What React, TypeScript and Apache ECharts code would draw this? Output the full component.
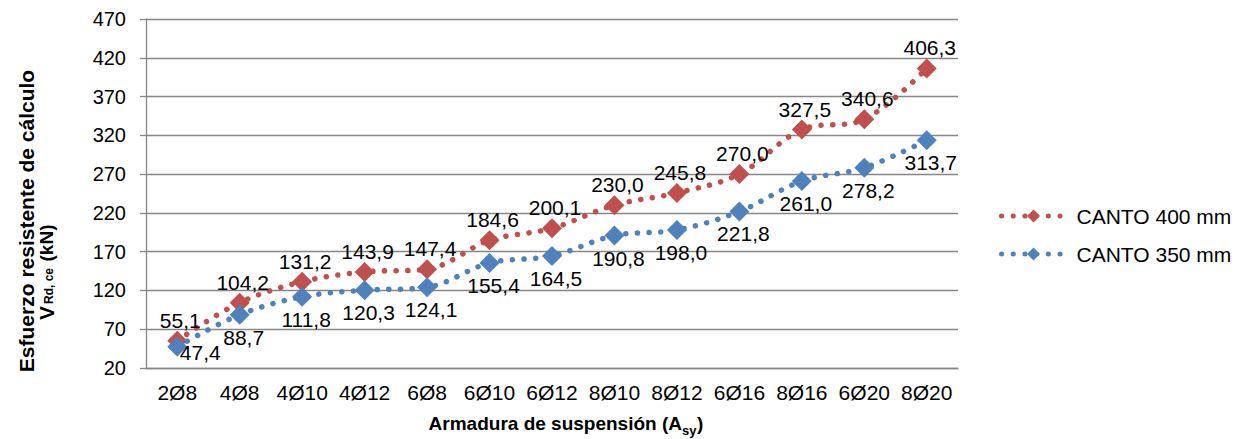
import React, { useEffect, useRef } from "react";
import * as echarts from "echarts";

const categories = ["2Ø8", "4Ø8", "4Ø10", "4Ø12", "6Ø8", "6Ø10", "6Ø12", "8Ø10", "8Ø12", "6Ø16", "8Ø16", "6Ø20", "8Ø20"];
const canto400 = [55.1, 104.2, 131.2, 143.9, 147.4, 184.6, 200.1, 230.0, 245.8, 270.0, 327.5, 340.6, 406.3];
const canto350 = [47.4, 88.7, 111.8, 120.3, 124.1, 155.4, 164.5, 190.8, 198.0, 221.8, 261.0, 278.2, 313.7];
const seriesNames = ["CANTO 400 mm", "CANTO 350 mm"];
const yMin = 20;
const yMax = 470;
const yStep = 50;

const FONT = "'Liberation Sans', Arial, sans-serif";
const RED = "#C0504D";
const BLUE = "#4F81BD";
const GRID = "#868686";
const DOTS = [0.1, 11.6];

const fmt = (p: any) => Number(p.value).toFixed(1).replace(".", ",");

export default function App() {
  const ref = useRef<HTMLDivElement>(null);
  useEffect(() => {
    if (!ref.current) return;
    const chart = echarts.init(ref.current, undefined, { renderer: "svg" });
    const labelBase = { show: true, fontSize: 21, color: "#000", fontFamily: FONT, formatter: fmt };
    chart.setOption({
      animation: false,
      backgroundColor: "#fff",
      grid: { left: 146, right: 289, top: 19, bottom: 71, outerBoundsMode: "none" },
      legend: {
        orient: "vertical",
        left: 994,
        top: 200,
        itemWidth: 64,
        itemHeight: 16,
        itemGap: 16,
        data: seriesNames,
        lineStyle: { width: 5, type: DOTS, cap: "round" },
        textStyle: { fontSize: 21, lineHeight: 22, color: "#000", fontFamily: FONT, padding: [0, 0, 0, 6] },
      },
      xAxis: {
        type: "category",
        data: categories,
        boundaryGap: true,
        axisLine: { lineStyle: { color: GRID, width: 1.3 } },
        axisTick: { alignWithLabel: true, length: 5, lineStyle: { color: GRID, width: 1.3 } },
        axisLabel: { fontSize: 21, margin: 14, color: "#000", fontFamily: FONT, interval: 0 },
        splitLine: { show: false },
      },
      yAxis: {
        type: "value",
        min: yMin,
        max: yMax,
        interval: yStep,
        axisLine: { show: true, lineStyle: { color: GRID, width: 1.3 } },
        axisTick: { show: true, length: 6, lineStyle: { color: GRID, width: 1.3 } },
        axisLabel: { fontSize: 20, margin: 20, color: "#000", fontFamily: FONT },
        splitLine: { lineStyle: { color: GRID, width: 1.3 } },
      },
      graphic: [
        {
          type: "text", x: 26.5, y: 221, rotation: Math.PI / 2,
          style: { text: "Esfuerzo resistente de cálculo", font: `bold 21px ${FONT}`, fill: "#000", textAlign: "center", textVerticalAlign: "middle" },
        },
        {
          type: "text", x: 46, y: 313, rotation: Math.PI / 2,
          style: { text: "V", font: `bold 21px ${FONT}`, fill: "#000", textAlign: "center", textVerticalAlign: "middle" },
        },
        {
          type: "text", x: 49, y: 286, rotation: Math.PI / 2,
          style: { text: "Rd, ce", font: `bold 12px ${FONT}`, fill: "#000", textAlign: "center", textVerticalAlign: "middle" },
        },
        {
          type: "text", x: 46, y: 243, rotation: Math.PI / 2,
          style: { text: "(kN)", font: `bold 19px ${FONT}`, fill: "#000", textAlign: "center", textVerticalAlign: "middle" },
        },
        {
          type: "text", x: 682, y: 423,
          style: { text: "Armadura de suspensión (A", font: `bold 19px ${FONT}`, fill: "#000", textAlign: "right", textVerticalAlign: "middle" },
        },
        {
          type: "text", x: 682, y: 430,
          style: { text: "sy", font: `bold 13px ${FONT}`, fill: "#000", textAlign: "left", textVerticalAlign: "middle" },
        },
        {
          type: "text", x: 697, y: 423,
          style: { text: ")", font: `bold 19px ${FONT}`, fill: "#000", textAlign: "left", textVerticalAlign: "middle" },
        },
      ],
      series: [
        {
          name: seriesNames[0],
          type: "line",
          data: canto400,
          smooth: 0.35,
          symbol: "diamond",
          symbolSize: 20,
          itemStyle: { color: RED },
          lineStyle: { color: RED, width: 5.5, type: DOTS, cap: "round" },
          label: { ...labelBase, position: "top", distance: 0, offset: [3, 0] },
          z: 2,
        },
        {
          name: seriesNames[1],
          type: "line",
          data: canto350.map((v, i) => (i === 0 ? { value: v, label: { offset: [23, -17] } } : v)),
          smooth: 0.35,
          symbol: "diamond",
          symbolSize: 20,
          itemStyle: { color: BLUE },
          lineStyle: { color: BLUE, width: 5.5, type: DOTS, cap: "round" },
          label: { ...labelBase, position: "bottom", distance: 2, offset: [4, 0] },
          z: 3,
        },
      ],
    });
    return () => chart.dispose();
  }, []);
  return (
    <div
      ref={ref}
      style={{ position: "absolute", left: 0, top: 0, width: 1247, height: 439, background: "#fff" }}
    />
  );
}
